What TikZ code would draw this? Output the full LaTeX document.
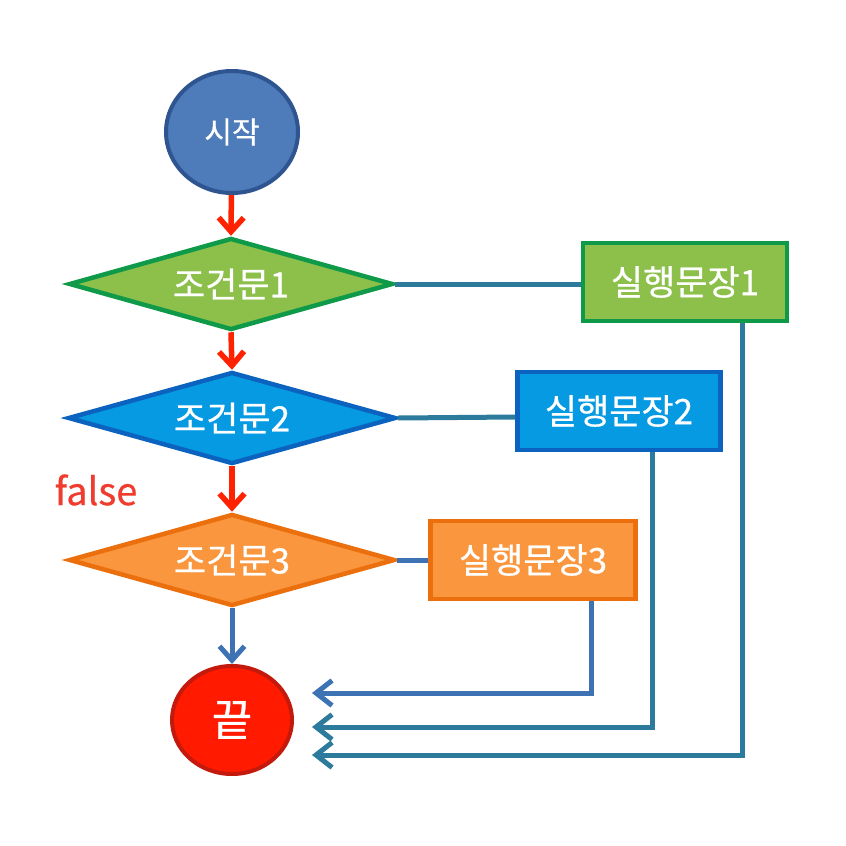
\documentclass[tikz,border=0pt]{standalone}
\usepackage{fontspec}
\setmainfont[FakeBold=0.6]{Noto Sans CJK KR}
\usetikzlibrary{shapes.geometric,arrows.meta}
\definecolor{startfill}{HTML}{4E7BBA}
\definecolor{startline}{HTML}{2E558F}
\definecolor{grfill}{HTML}{8CC04B}
\definecolor{grline}{HTML}{0E9A48}
\definecolor{blfill}{HTML}{069AE3}
\definecolor{blline}{HTML}{0B62BF}
\definecolor{orfill}{HTML}{F9963E}
\definecolor{orline}{HTML}{EB6F0C}
\definecolor{endfill}{HTML}{FF1A00}
\definecolor{endline}{HTML}{C41A0E}
\definecolor{redarrow}{HTML}{FF2200}
\definecolor{tealline}{HTML}{2D7B9C}
\definecolor{blueline}{HTML}{3D72B4}
\definecolor{falsered}{HTML}{F03C2E}
\tikzset{
  x=1pt,y=-1pt,
  term/.style={ellipse, inner sep=0pt, line width=4pt, text=white},
  cond/.style={diamond, shape aspect=3.5, inner sep=0pt, line width=4.5pt, text=white, font=\fontsize{35}{40}\selectfont, minimum width=324pt, minimum height=92pt},
  act/.style={rectangle, inner sep=0pt, line width=4.5pt, text=white, font=\fontsize{35}{40}\selectfont, minimum height=78pt},
  redarr/.style={draw=redarrow, line width=5.5pt, -{Straight Barb[length=14pt,width=25pt,line width=5.5pt]}},
  retarr/.style={line width=5pt, -{Straight Barb[length=16pt,width=25pt,line width=5pt]}},
  link/.style={line width=5pt}
}
\begin{document}
\begin{tikzpicture}
\useasboundingbox (0,0) rectangle (846,846);
\fill[white] (0,0) rectangle (846,846);
\node[term, draw=startline, fill=startfill, minimum width=132pt, minimum height=122pt, font=\fontsize{30}{34}\selectfont] (s) at (232,132) {시작};
\node[cond, draw=grline, fill=grfill] (d1) at (231,284) {조건문1};
\node[cond, draw=blline, fill=blfill, minimum width=328pt] (d2) at (232,418) {조건문2};
\node[cond, draw=orline, fill=orfill, minimum width=326pt] (d3) at (232,560) {조건문3};
\node[act, draw=grline, fill=grfill, minimum width=204pt] (b1) at (685,282) {실행문장1};
\node[act, draw=blline, fill=blfill, minimum width=203pt] (b2) at (619,411) {실행문장2};
\node[act, draw=orline, fill=orfill, minimum width=205pt] (b3) at (533,560) {실행문장3};
\node[term, draw=endline, fill=endfill, minimum width=120pt, minimum height=108pt, font=\fontsize{44}{48}\selectfont] (e) at (232,720) {끝};
\node[text=falsered, font=\fontsize{38}{42}\selectfont, anchor=center] (f) at (96,490) {false};
\coordinate (r1) at (742,755);
\coordinate (r2) at (652,727);
\coordinate (r3) at (591,693);
\coordinate (t1) at (312,755);
\coordinate (t2) at (312,727);
\coordinate (t3) at (312,693);
\draw[redarr] (s) -- (d1.north);
\draw[redarr] (d1.south) -- (d2.north);
\draw[redarr] (d2.south) -- (d3.north);
\draw[draw=blueline, line width=5pt, -{Straight Barb[length=14pt,width=25pt,line width=5pt]}] (d3.south) -- (e.north);
\draw[link, draw=tealline] (d1.east) -- (d1.east -| b1.west);
\draw[link, draw=tealline] (d2.east) -- (b2.west |- 0,417);
\draw[link, draw=blueline] (d3.east) -- (d3.east -| b3.west);
\draw[retarr, draw=blueline] (b3.south -| r3) -- (r3) -- (t3);
\draw[retarr, draw=tealline] (b2.south -| r2) -- (r2) -- (t2);
\draw[retarr, draw=tealline] (b1.south -| r1) -- (r1) -- (t1);
\end{tikzpicture}
\end{document}
